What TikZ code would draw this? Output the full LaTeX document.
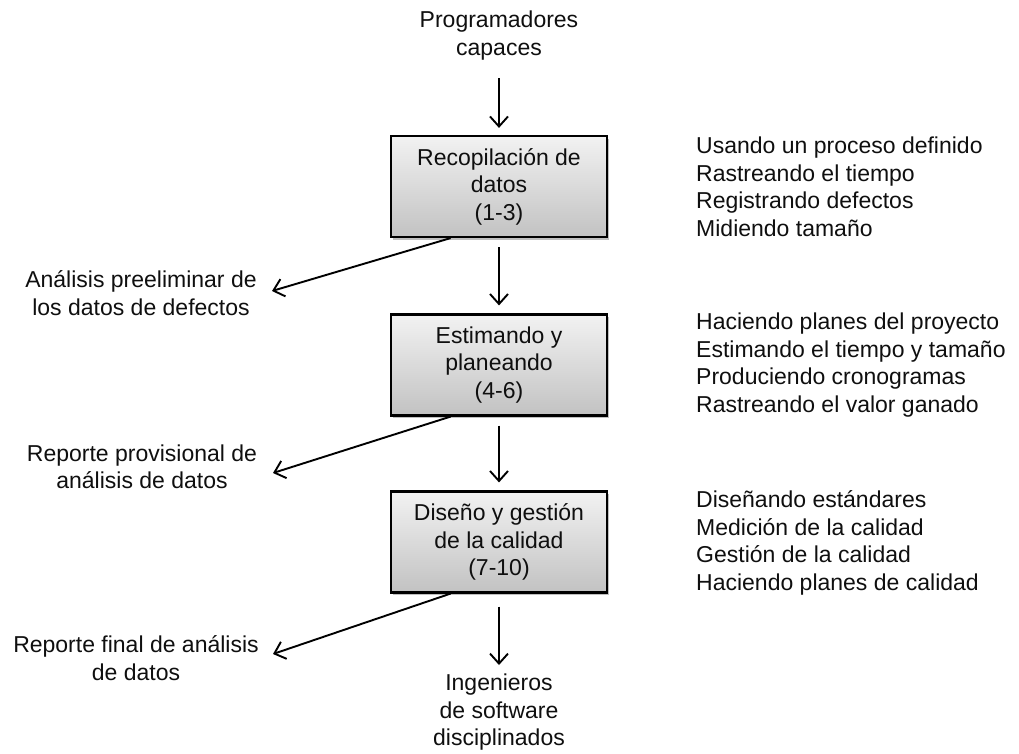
\documentclass[tikz,border=0pt]{standalone}
\usepackage{fontspec}
\setmainfont{Liberation Sans}
\usetikzlibrary{arrows.meta,shadows,calc}
\definecolor{boxtop}{RGB}{242,242,242}
\definecolor{boxbot}{RGB}{194,194,194}
\definecolor{ink}{RGB}{15,15,15}
\begin{document}
\begin{tikzpicture}[x=1pt,y=-1pt,
  every node/.style={font=\fontsize{23}{27.5}\selectfont, text=ink, inner sep=0pt, align=center},
  stage/.style={draw=black, line width=2.2pt, minimum width=216pt, minimum height=101pt,
    top color=boxtop, bottom color=boxbot,
    drop shadow={shadow xshift=2pt, shadow yshift=-2.5pt, opacity=0.25, fill=black}},
  flow/.style={line width=1.9pt, -{Straight Barb[length=10pt,width=18pt,line width=1.9pt]}},
  note/.style={align=left, anchor=west}]
\useasboundingbox (0,0) rectangle (1019,753);

% main column
\node[anchor=south] (src) at (499,60) {Programadores\\capaces};
\node[stage] (b1) at (499,186.5) {Recopilación de\\datos\\(1-3)};
\node[stage] (b2) at (499,365) {Estimando y\\planeando\\(4-6)};
\node[stage] (b3) at (499,542) {Diseño y gestión\\de la calidad\\(7-10)};
\node[anchor=north] (dst) at (499,674) {Ingenieros\\de software\\disciplinados};

\draw[flow, shorten <=18pt, shorten >=7pt] (src) -- (b1);
\draw[flow, shorten <=9pt, shorten >=8pt] (b1) -- (b2);
\draw[flow, shorten <=9pt, shorten >=8pt] (b2) -- (b3);
\draw[flow, shorten <=13pt, shorten >=9pt] (b3) -- (dst);

% side outputs
\coordinate (t1) at (272,291);
\coordinate (t2) at (273,473);
\coordinate (t3) at (273,654);
\node (o1) at (141,293) {Análisis preeliminar de\\los datos de defectos};
\node (o2) at (142,467) {Reporte provisional de\\análisis de datos};
\node (o3) at (136,658) {Reporte final de análisis\\de datos};
\draw[flow] ($(b1.south west)!0.278!(b1.south east)$) -- (t1);
\draw[flow] ($(b2.south west)!0.278!(b2.south east)$) -- (t2);
\draw[flow] ($(b3.south west)!0.278!(b3.south east)$) -- (t3);

% activities of each stage
\node[note] (a1) at (696,187) {Usando un proceso definido\\Rastreando el tiempo\\Registrando defectos\\Midiendo tamaño};
\node[note] (a2) at (696,365) {Haciendo planes del proyecto\\Estimando el tiempo y tamaño\\Produciendo cronogramas\\Rastreando el valor ganado};
\node[note] (a3) at (696,543) {Diseñando estándares\\Medición de la calidad\\Gestión de la calidad\\Haciendo planes de calidad};
\end{tikzpicture}
\end{document}
